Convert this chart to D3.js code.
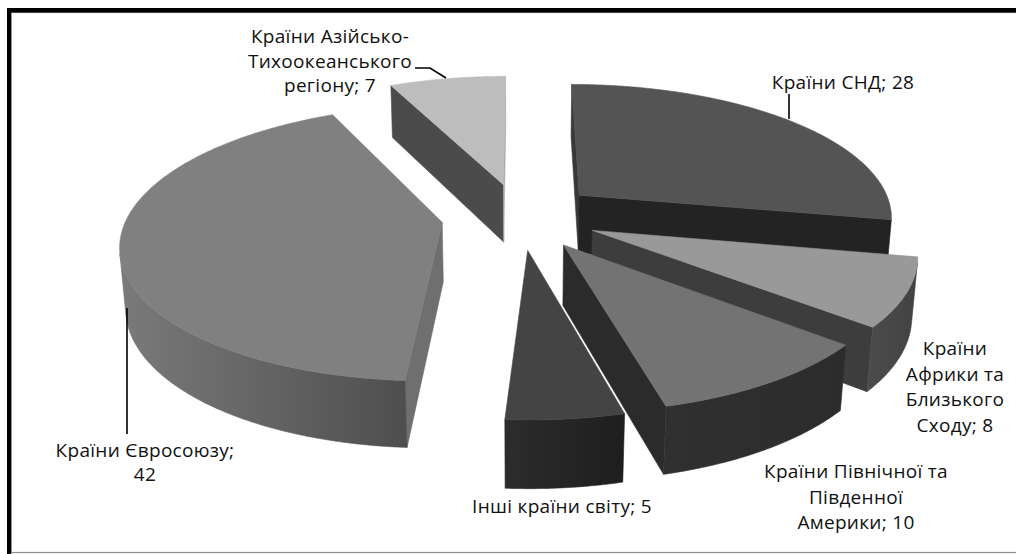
<!DOCTYPE html>
<html>
<head>
<meta charset="utf-8">
<script src="https://cdn.jsdelivr.net/npm/d3@7"></script>
<style>
  html, body { margin: 0; padding: 0; background: #ffffff; }
  svg { display: block; }
  text { font-family: "Open Sans", "Noto Sans", sans-serif; font-size: 19px; fill: #111; letter-spacing: 0.3px; }
</style>
</head>
<body>
<svg id="chart" width="1016" height="554"></svg>
<script>
// Export structure by region, %
const categories = [
  "Країни СНД",
  "Країни Африки та Близького Сходу",
  "Країни Північної та Південної Америки",
  "Інші країни світу",
  "Країни Євросоюзу",
  "Країни Азійсько-Тихоокеанського регіону"
];
const values = [28, 8, 10, 5, 42, 7];

// Category names as they are wrapped in the data labels
const labelLines = [
  ["Країни СНД"],
  ["Країни", "Африки та", "Близького", "Сходу"],
  ["Країни Північної та", "Південної", "Америки"],
  ["Інші країни світу"],
  ["Країни Євросоюзу"],
  ["Країни Азійсько-", "Тихоокеанського", "регіону"]
];
const valueOnOwnLine = [false, false, false, false, true, false];

// Greyscale palette: top faces, outer walls (light → dark), radial cut faces
const topColors = ["#545454", "#999999", "#737373", "#444444", "#808080", "#bdbdbd"];
const wallColors = [
  ["#262626", "#222222"],
  ["#4c4c4c", "#424242"],
  ["#303030", "#2c2c2c"],
  ["#2c2c2c", "#1e1e1e"],
  ["#7a7a7a", "#4e4e4e"],
  ["#4a4a4a", "#4a4a4a"]
];
const startFaceColors = ["#383838", "#3c3c3c", "#2b2b2b", "#2b2b2b", "#6f6f6f", "#4b4b4b"];
const endFaceColors   = ["#232323", "#3d3d3d", "#2b2b2b", "#2b2b2b", "#6f6f6f", "#a8a8a8"];

// Data label placement (centre x, first baseline, line step) and leader lines
const labelLayout = [
  { x: 843, y: 89,  step: 25 },
  { x: 955, y: 355, step: 25.7 },
  { x: 856, y: 478, step: 25.5 },
  { x: 562, y: 513, step: 25 },
  { x: 145, y: 457, step: 24 },
  { x: 330, y: 43,  step: 24.5 }
];
const leaderLines = [
  [[789, 94], [789, 119]],
  null,
  null,
  null,
  [[127, 308], [127, 434]],
  [[415, 68], [430, 68], [446, 78]]
];

// 3-D view of the exploded pie (unit radius)
const view = {
  thickness: 0.21,
  explode: 0.25,
  elevation: 25 * Math.PI / 180,
  distance: 6.1,
  focal: 1920,
  cx: 520,
  cy: 216
};
const se = Math.sin(view.elevation), ce = Math.cos(view.elevation);
const camera = [0, view.distance * se, -view.distance * ce];

function project(p) {
  const d = view.distance + p[2] * ce - p[1] * se;
  return [view.cx + view.focal * p[0] / d, view.cy - view.focal * (p[1] * ce + p[2] * se) / d];
}
function facing(n, p) {
  return n[0] * (camera[0] - p[0]) + n[1] * (camera[1] - p[1]) + n[2] * (camera[2] - p[2]) > 0;
}

const svg = d3.select("#chart");
const defs = svg.append("defs");

// Frame
svg.append("rect").attr("x", 11).attr("y", 12.5).attr("width", 1010).attr("height", 540)
  .attr("fill", "none").attr("stroke", "#8c8c8c").attr("stroke-width", 1.2);
svg.append("rect").attr("x", 7).attr("y", 8).attr("width", 1009).attr("height", 4.5).attr("fill", "#000");
svg.append("rect").attr("x", 7).attr("y", 8).attr("width", 4.2).attr("height", 546).attr("fill", "#000");

const arcs = d3.pie().sort(null).value(d => d).startAngle(0).endAngle(2 * Math.PI)(values);
const H = -view.thickness;

const slices = arcs.map((a, i) => {
  const mid = (a.startAngle + a.endAngle) / 2;
  const ox = view.explode * Math.sin(mid), oz = view.explode * Math.cos(mid);
  const P = (theta, r, y) => [ox + r * Math.sin(theta), y, oz + r * Math.cos(theta)];
  const c = P(mid, 0.5, H / 2);
  const depth = Math.hypot(c[0] - camera[0], c[1] - camera[1], c[2] - camera[2]);
  return { i, a, P, depth };
});
// Painter's order: farthest slice first
slices.sort((s, t) => t.depth - s.depth);

const line = d3.line();
const pieG = svg.append("g");

function face(g, pts, color) {
  g.append("path")
    .attr("d", line(pts.map(project)) + "Z")
    .attr("fill", color)
    .attr("stroke", color)
    .attr("stroke-width", 0.6)
    .attr("stroke-linejoin", "round");
}

slices.forEach(s => {
  const { i, a, P } = s;
  const t0 = a.startAngle, t1 = a.endAngle;
  const g = pieG.append("g").attr("class", "slice");
  const apexTop = P(0, 0, 0), apexBot = P(0, 0, H);

  // radial cut faces
  if (facing([-Math.cos(t0), 0, Math.sin(t0)], apexTop)) {
    face(g, [apexTop, P(t0, 1, 0), P(t0, 1, H), apexBot], startFaceColors[i]);
  }
  if (facing([Math.cos(t1), 0, -Math.sin(t1)], apexTop)) {
    face(g, [apexTop, P(t1, 1, 0), P(t1, 1, H), apexBot], endFaceColors[i]);
  }

  // outer wall: keep the runs of segments that face the camera
  const steps = Math.max(12, Math.ceil((t1 - t0) / (Math.PI / 360)));
  const angles = d3.range(steps + 1).map(j => t0 + (t1 - t0) * j / steps);
  const runs = [];
  let run = null;
  for (let j = 0; j < steps; j++) {
    const tm = (angles[j] + angles[j + 1]) / 2;
    const vis = facing([Math.sin(tm), 0, Math.cos(tm)], P(tm, 1, H / 2));
    if (vis) {
      if (!run) { run = [angles[j]]; runs.push(run); }
      run.push(angles[j + 1]);
    } else run = null;
  }
  runs.forEach((r, k) => {
    const topPts = r.map(t => P(t, 1, 0));
    const botPts = r.map(t => P(t, 1, H)).reverse();
    const xs = topPts.concat(botPts).map(p => project(p)[0]);
    const gid = `wall-${i}-${k}`;
    const grad = defs.append("linearGradient").attr("id", gid)
      .attr("gradientUnits", "userSpaceOnUse")
      .attr("x1", d3.min(xs)).attr("x2", d3.max(xs)).attr("y1", 0).attr("y2", 0);
    grad.append("stop").attr("offset", 0).attr("stop-color", wallColors[i][0]);
    grad.append("stop").attr("offset", 1).attr("stop-color", wallColors[i][1]);
    g.append("path")
      .attr("d", line(topPts.concat(botPts).map(project)) + "Z")
      .attr("fill", `url(#${gid})`)
      .attr("stroke", `url(#${gid})`)
      .attr("stroke-width", 0.6);
  });

  // top face
  const arcPts = angles.map(t => P(t, 1, 0));
  face(g, [apexTop].concat(arcPts), topColors[i]);
});

// Leader lines
leaderLines.forEach(pts => {
  if (!pts) return;
  svg.append("path").attr("d", line(pts)).attr("fill", "none")
    .attr("stroke", "#000").attr("stroke-width", 1.6);
});

// Data labels: "category; value"
values.forEach((v, i) => {
  const lines = labelLines[i].slice();
  if (valueOnOwnLine[i]) {
    lines[lines.length - 1] += ";";
    lines.push(String(v));
  } else {
    lines[lines.length - 1] += "; " + v;
  }
  const L = labelLayout[i];
  const t = svg.append("text").attr("text-anchor", "middle");
  lines.forEach((s, k) => {
    t.append("tspan").attr("x", L.x).attr("y", L.y + k * L.step).text(s);
  });
});
</script>
</body>
</html>
